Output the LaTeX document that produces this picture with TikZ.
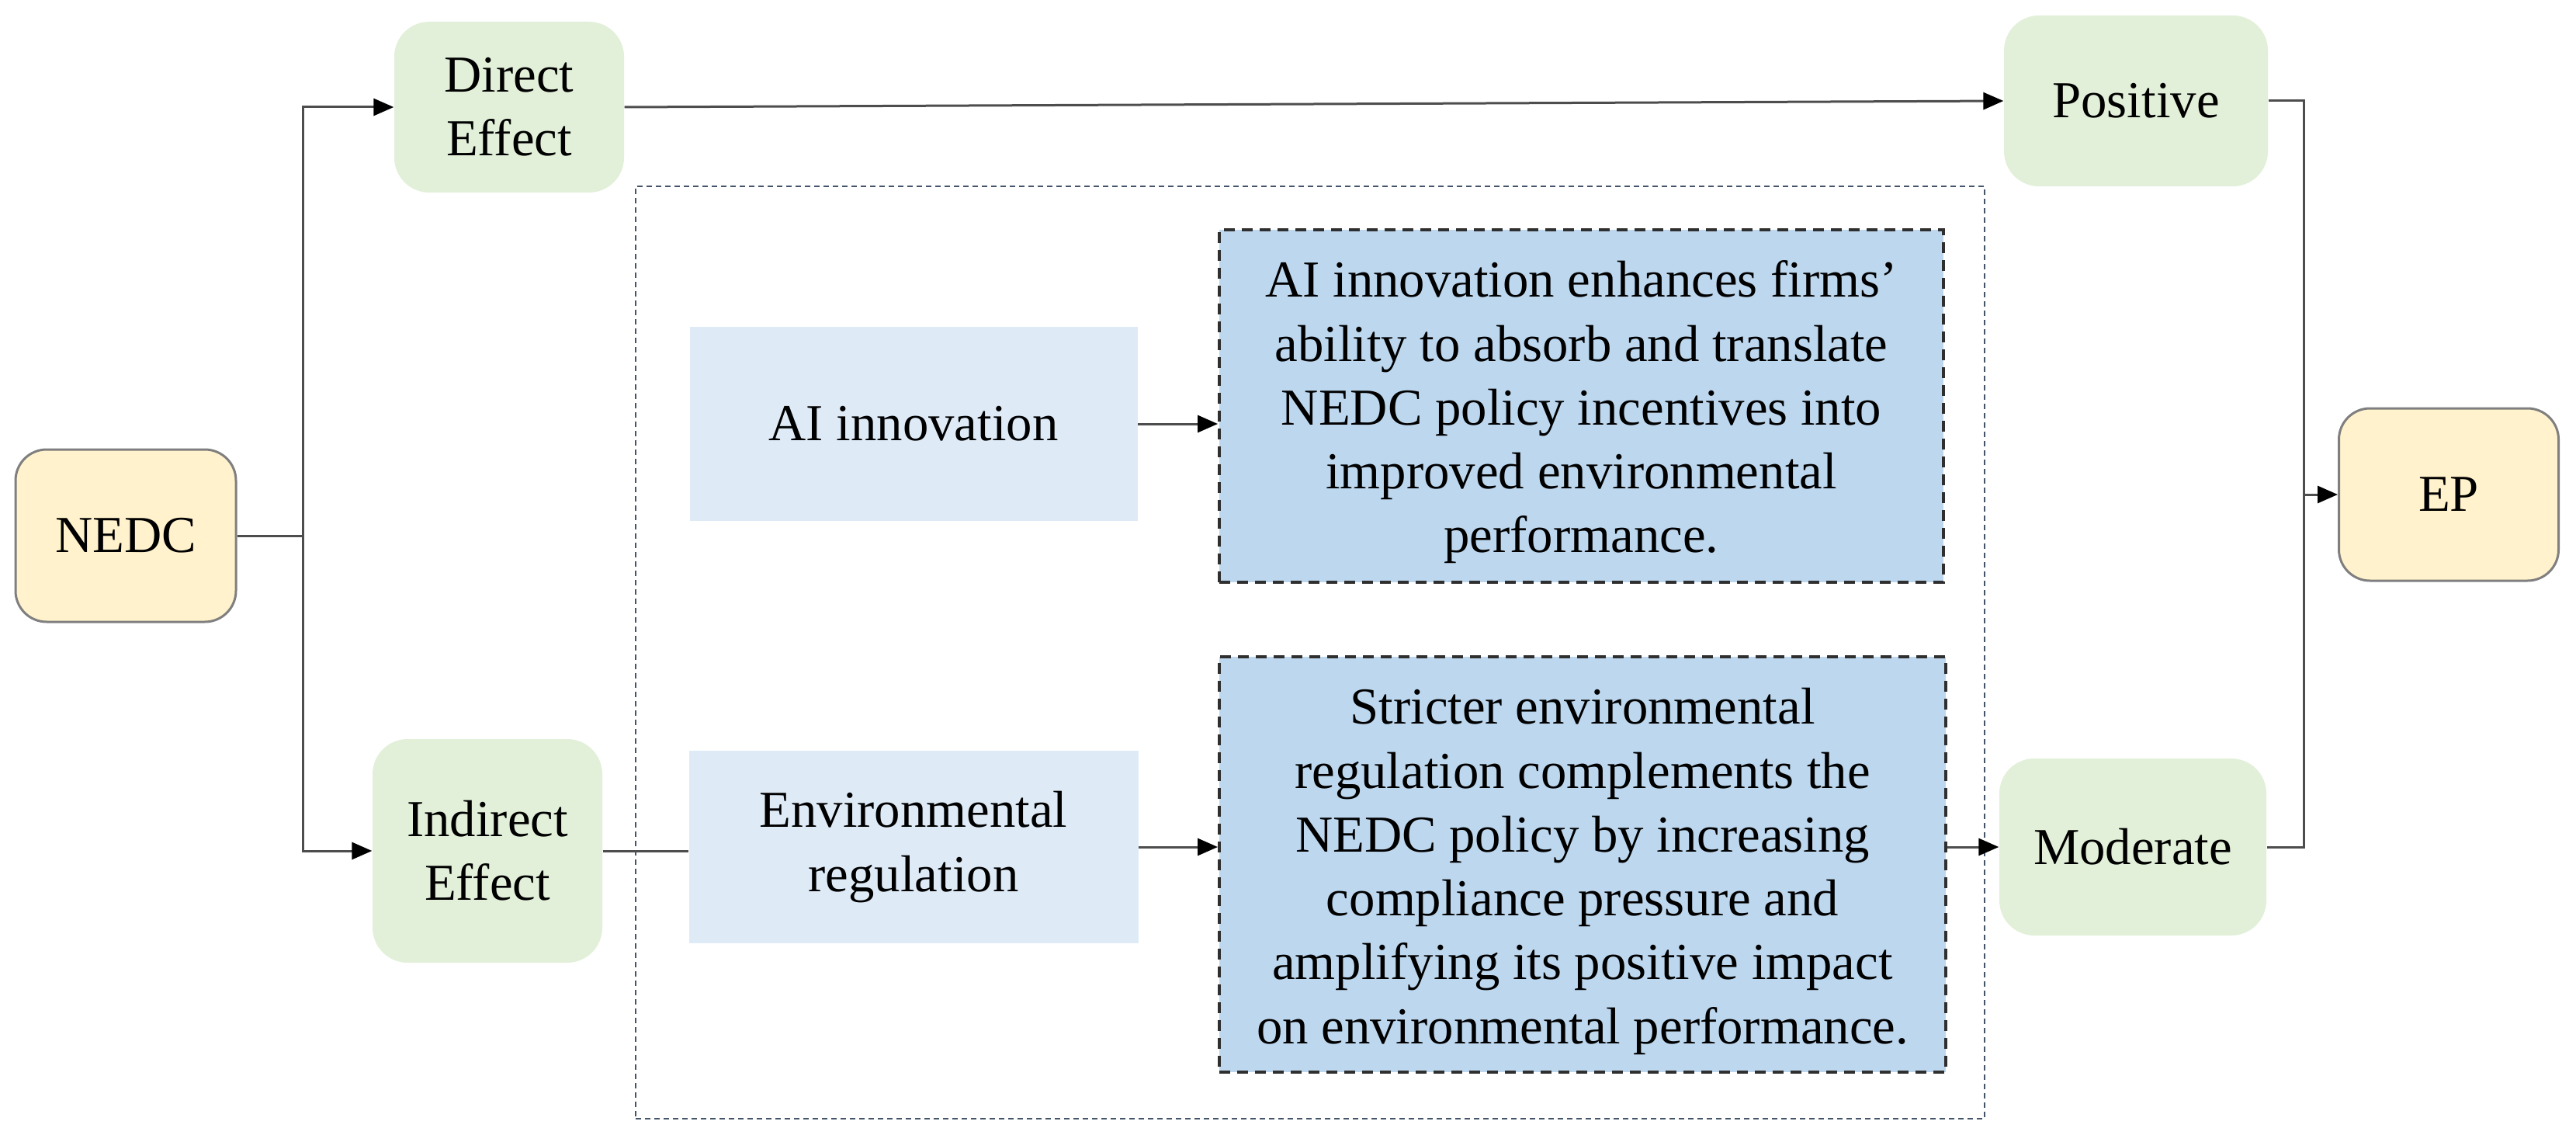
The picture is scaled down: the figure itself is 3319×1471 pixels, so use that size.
\documentclass[tikz,border=0pt]{standalone}
\usepackage{fontspec}
\setmainfont{Liberation Serif}
\usetikzlibrary{arrows.meta}
\definecolor{yel}{HTML}{FFF2CC}
\definecolor{grn}{HTML}{E2F0D9}
\definecolor{lblue}{HTML}{DEEBF7}
\definecolor{mblue}{HTML}{BDD7EE}
\definecolor{bgray}{HTML}{7F7F7F}
\definecolor{dgray}{HTML}{2F2F2F}
\definecolor{cgray}{HTML}{4D4D4D}
\definecolor{framec}{HTML}{44546A}
\begin{document}
\begin{tikzpicture}[x=0.1mm,y=-0.1mm,
  font=\fontsize{19pt}{23.4pt}\selectfont,
  box/.style={rectangle, inner sep=0pt, align=center, text=black},
  yellowbox/.style={box, fill=yel, draw=bgray, line width=0.3mm, rounded corners=4mm},
  greenbox/.style={box, fill=grn, rounded corners=4.5mm},
  lightbox/.style={box, fill=lblue},
  descbox/.style={box, fill=mblue, draw=dgray, line width=0.4mm, dash pattern=on 1.4mm off 0.9mm},
  desctext/.style={align=center, inner sep=0pt, text=black},
  framebox/.style={rectangle, draw=framec, line width=0.22mm, dash pattern=on 0.7mm off 0.5mm, inner sep=0pt},
  conn/.style={draw=cgray, line width=0.3mm},
  arr/.style={conn, -{Triangle[length=2.6mm, width=2.2mm, color=black]}}
]
\useasboundingbox (0,0) rectangle (3319,1471);

% dotted container
\node[framebox, minimum width=173.8mm, minimum height=120.1mm] (frame) at (1688,840.5) {};

% nodes
\node[yellowbox, minimum width=28.4mm, minimum height=22.2mm] (nedc) at (162,690) {NEDC};
\node[greenbox, minimum width=29.6mm, minimum height=22mm] (de) at (656,138) {Direct\\Effect};
\node[greenbox, minimum width=29.6mm, minimum height=28.8mm] (ie) at (628,1096) {Indirect\\Effect};
\node[greenbox, minimum width=34mm, minimum height=22mm] (pos) at (2752,130) {Positive};
\node[greenbox, minimum width=34.4mm, minimum height=22.8mm] (mod) at (2748,1091) {Moderate};
\node[yellowbox, minimum width=28.3mm, minimum height=22.2mm] (ep) at (3155,637) {EP};
\node[lightbox, minimum width=57.7mm, minimum height=25mm] (ai) at (1177,546) {AI innovation};
\node[lightbox, minimum width=57.9mm, minimum height=24.8mm] (er) at (1177,1091) {Environmental\\regulation};
\node[descbox, minimum width=93.3mm, minimum height=45.4mm] (aid) at (2037.5,523) {};
\node[desctext] (aidt) at ([yshift=-0.8mm]aid.center)
  {AI innovation enhances firms’\\ability to absorb and translate\\NEDC policy incentives into\\improved environmental\\performance.};
\node[descbox, minimum width=93.6mm, minimum height=53.5mm] (erd) at (2039,1113.5) {};
\node[desctext] (erdt) at ([yshift=-0.9mm]erd.center)
  {Stricter environmental\\regulation complements the\\NEDC policy by increasing\\compliance pressure and\\amplifying its positive impact\\on environmental performance.};

% junction points
\coordinate (lt) at (390,690);
\coordinate (rt) at (2968,637);

% connectors
\draw[arr] (nedc.east) -- (lt) |- (de.west);
\draw[arr] (lt) |- (ie.west);
\draw[arr] (de.east) -- (pos.west);
\draw[conn] (ie.east) -- (ie.east -| er.west);
\draw[arr] (ai.east) -- (ai.east -| aid.west);
\draw[arr] (er.east) -- (er.east -| erd.west);
\draw[arr] (erd.east |- mod.west) -- (mod.west);
\draw[conn] (pos.east) -| (rt) |- (mod.east);
\draw[arr] (rt) -- (ep.west);
\end{tikzpicture}
\end{document}
